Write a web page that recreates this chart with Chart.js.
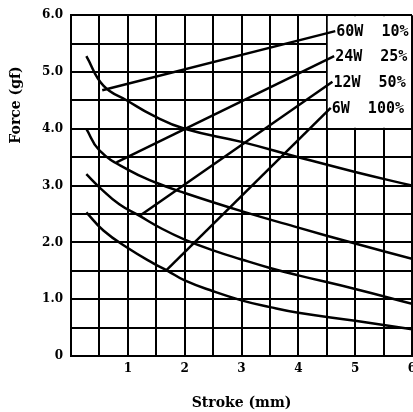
<!DOCTYPE html>
<html>
<head>
<meta charset="utf-8">
<script src="https://cdn.jsdelivr.net/npm/chart.js@4"></script>
<style>
  html, body { margin: 0; padding: 0; background: #fff; overflow: hidden; }
  #wrap { width: 413px; height: 412px; }
</style>
</head>
<body>
<div id="wrap"><canvas id="myChart"></canvas></div>
<script>
// force curves (stroke mm -> force gf)
var stroke60W = [0.27, 0.57, 1.0, 1.45, 2.0, 3.0, 4.0, 5.0, 6.0];
var force60W  = [5.28, 4.76, 4.49, 4.23, 4.0, 3.77, 3.5, 3.24, 3.0];
var stroke24W = [0.27, 0.5, 1.0, 1.5, 2.0, 3.0, 4.0, 5.0, 6.0];
var force24W  = [4.0, 3.62, 3.28, 3.05, 2.87, 2.55, 2.26, 1.98, 1.71];
var stroke12W = [0.27, 0.5, 0.85, 1.2, 1.6, 2.0, 2.5, 3.0, 3.5, 4.0, 5.0, 6.0];
var force12W  = [3.2, 2.97, 2.67, 2.47, 2.24, 2.05, 1.86, 1.7, 1.55, 1.42, 1.18, 0.92];
var stroke6W  = [0.27, 0.57, 1.0, 1.45, 1.7, 2.0, 2.5, 3.0, 3.5, 4.0, 5.0, 6.0];
var force6W   = [2.53, 2.21, 1.9, 1.63, 1.5, 1.33, 1.14, 0.98, 0.86, 0.76, 0.62, 0.47];

// leader lines from curve to label
var labels = ['60W  10%', '24W  25%', '12W  50%', '6W  100%'];
var leaderX = [[0.55, 4.65], [0.8, 4.63], [1.21, 4.6], [1.68, 4.57]];
var leaderY = [[4.68, 5.72], [3.41, 5.28], [2.47, 4.83], [1.51, 4.37]];

// blank box behind the labels (stroke / force range)
var boxX = [4.5, 6];
var boxY = [4.0, 6.0];

function pts(xs, ys) {
  return xs.map(function(x, i) { return {x: x, y: ys[i]}; });
}

var datasets = [];
[[stroke60W, force60W], [stroke24W, force24W], [stroke12W, force12W], [stroke6W, force6W]].forEach(function(c) {
  datasets.push({
    data: pts(c[0], c[1]),
    borderColor: '#000',
    borderWidth: 2.5,
    pointRadius: 0,
    tension: 0.45,
    fill: false
  });
});
leaderX.forEach(function(xs, i) {
  datasets.push({
    data: pts(xs, leaderY[i]),
    borderColor: '#000',
    borderWidth: 2.5,
    pointRadius: 0,
    tension: 0,
    fill: false
  });
});

var blankBox = {
  id: 'blankBox',
  beforeDatasetsDraw: function(chart) {
    var ctx = chart.ctx;
    var xs = chart.scales.x, ys = chart.scales.y;
    var l = xs.getPixelForValue(boxX[0]) + 1, r = xs.getPixelForValue(boxX[1]) - 1;
    var t = ys.getPixelForValue(boxY[1]) + 1, b = ys.getPixelForValue(boxY[0]) - 1;
    ctx.save();
    ctx.fillStyle = '#fff';
    ctx.fillRect(l, t, r - l, b - t);
    ctx.restore();
  },
  afterDatasetsDraw: function(chart) {
    var ctx = chart.ctx;
    var xs = chart.scales.x, ys = chart.scales.y;
    ctx.save();
    ctx.fillStyle = '#000';
    ctx.font = 'bold 15px "DejaVu Sans Mono"';
    ctx.textAlign = 'left';
    ctx.textBaseline = 'middle';
    leaderX.forEach(function(xs2, i) {
      ctx.fillText(labels[i], xs.getPixelForValue(xs2[1]) + 1, ys.getPixelForValue(leaderY[i][1]) + 1);
    });
    // y axis title
    ctx.translate(16, 105);
    ctx.rotate(-Math.PI / 2);
    ctx.textAlign = 'center';
    ctx.font = 'bold 14px "DejaVu Serif"';
    ctx.fillText('Force (gf)', 0, 0);
    ctx.restore();
  }
};

var ctx = document.getElementById('myChart');
var myChart = new Chart(ctx, {
  type: 'line',
  data: { datasets: datasets },
  options: {
    responsive: true,
    maintainAspectRatio: false,
    animation: false,
    events: [],
    layout: { padding: { top: 14, right: 1, left: 0, bottom: 0 } },
    plugins: { legend: { display: false }, tooltip: { enabled: false } },
    scales: {
      x: {
        type: 'linear',
        min: 0, max: 6,
        grid: { color: '#000', lineWidth: 2, drawTicks: false },
        border: { color: '#000', width: 2 },
        ticks: {
          stepSize: 0.5, autoSkip: false, maxRotation: 0, padding: 6, color: '#000',
          font: { family: 'DejaVu Serif', size: 12, weight: 'bold' },
          callback: function(v) { return (v > 0 && Number.isInteger(v)) ? String(v) : ''; }
        },
        title: {
          display: true, text: 'Stroke (mm)', color: '#000', padding: { top: 0, bottom: 0 },
          font: { family: 'DejaVu Serif', size: 14, weight: 'bold' }
        },
        afterFit: function(s) { s.height = 56; s.paddingLeft = 0; s.paddingRight = 0; }
      },
      y: {
        min: 0, max: 6,
        grid: { color: '#000', lineWidth: 2, drawTicks: false },
        border: { color: '#000', width: 2 },
        ticks: {
          stepSize: 0.5, autoSkip: false, padding: 8, color: '#000',
          font: { family: 'DejaVu Serif', size: 12, weight: 'bold' },
          callback: function(v) { return v === 0 ? '0' : (Number.isInteger(v) ? v.toFixed(1) : ''); }
        },
        afterFit: function(s) { s.width = 71; }
      }
    }
  },
  plugins: [blankBox]
});
</script>
</body>
</html>
